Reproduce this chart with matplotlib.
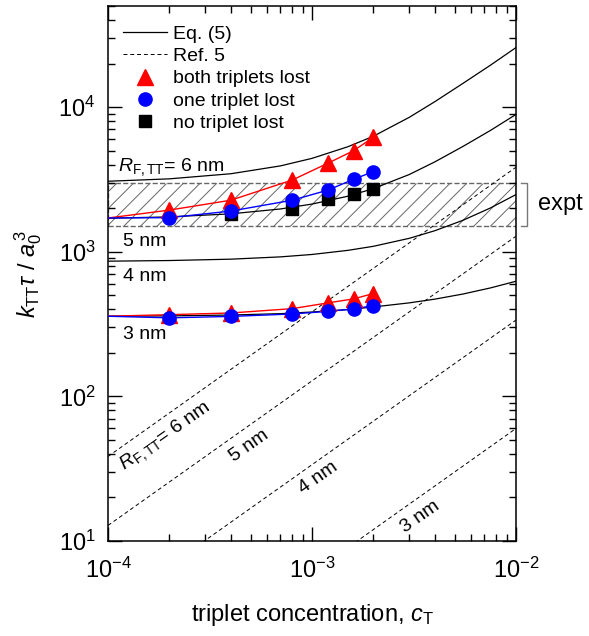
import matplotlib
matplotlib.use("Agg")
import matplotlib.pyplot as plt
import matplotlib.transforms as mtransforms

plt.rcParams['font.family'] = ['Liberation Sans', 'DejaVu Sans']
plt.rcParams['mathtext.fontset'] = 'custom'
plt.rcParams['mathtext.rm'] = 'Liberation Sans'
plt.rcParams['mathtext.it'] = 'Liberation Sans:italic'
plt.rcParams['mathtext.bf'] = 'Liberation Sans:bold'
plt.rcParams['hatch.linewidth'] = 0.7

# measured points (simulation), x = triplet concentration
c_meas = [2e-4, 4e-4, 8e-4, 1.2e-3, 1.6e-3, 2e-3]
c_none = [4e-4, 8e-4, 1.2e-3, 1.6e-3, 2e-3]
both_5nm = [1940, 2270, 3130, 4100, 5000, 6180]
one_5nm = [1720, 1910, 2270, 2670, 3170, 3580]
none_5nm = [1810, 1980, 2300, 2490, 2730]
both_3nm = [367, 377, 404, 443, 472, 514]
one_3nm = [349, 357, 371, 387, 402, 424]

# connecting lines start at the left edge
c_fit = [1e-4, 2e-4, 4e-4, 8e-4, 1.2e-3, 1.6e-3, 2e-3]
both_fit_5nm = [1710, 1940, 2270, 3130, 4100, 5000, 6180]
one_fit_5nm = [1710, 1720, 1910, 2270, 2670, 3170, 3580]
both_fit_3nm = [358, 367, 377, 404, 443, 472, 514]
one_fit_3nm = [358, 349, 357, 371, 387, 402, 424]

# Eq. (5) curves
c_eq = [1e-4, 2e-4, 4e-4, 7e-4, 1e-3, 1.5e-3, 2e-3, 3e-3, 4e-3, 5.5e-3, 7.5e-3, 1e-2]
eq_6nm = [3070, 3190, 3460, 3920, 4420, 5320, 6290, 8500, 10900, 14600, 19500, 25800]
eq_5nm = [1704, 1741, 1827, 1975, 2135, 2420, 2730, 3420, 4180, 5350, 6900, 8900]
eq_4nm = [860, 869, 888, 921, 957, 1022, 1090, 1238, 1397, 1650, 2008, 2484]
eq_3nm = [358, 360, 365, 373, 383, 398, 415, 443, 470, 510, 562, 625]

# Ref. 5 lines
c_ref = [1e-4, 1e-2]
ref_6nm = [38.4, 3840]
ref_5nm = [12.8, 1280]
ref_4nm = [3.37, 337]
ref_3nm = [0.6, 60]

expt_low, expt_high = 1500, 3000

fig = plt.figure(figsize=(5.89, 6.36), dpi=100)
ax = fig.add_axes([0.1834, 0.1494, 0.6927, 0.8412])
ax.set_xscale('log')
ax.set_yscale('log')

# experimental band
ax.axhspan(expt_low, expt_high, facecolor='none', edgecolor='#666666',
           hatch='//', linestyle='--', linewidth=1.0, zorder=1)

h_eq = None
for vals in [eq_6nm, eq_5nm, eq_4nm, eq_3nm]:
    h_eq, = ax.plot(c_eq, vals, color='black', lw=0.9, zorder=3)
h_ref = None
for vals in [ref_6nm, ref_5nm, ref_4nm, ref_3nm]:
    h_ref, = ax.plot(c_ref, vals, color='black', lw=0.7, ls=(0, (4, 3)), zorder=2)

ax.plot(c_fit, both_fit_5nm, color='red', lw=1.0, zorder=4)
ax.plot(c_fit, one_fit_5nm, color='blue', lw=1.0, zorder=4)
ax.plot(c_fit, both_fit_3nm, color='red', lw=1.0, zorder=4)
ax.plot(c_fit, one_fit_3nm, color='blue', lw=1.0, zorder=4)

h_sq, = ax.plot(c_none, none_5nm, 's', color='black', ms=8.5, ls='none', zorder=5)
h_tri, = ax.plot(c_meas, both_5nm, '^', color='red', ms=11, ls='none', zorder=6)
ax.plot(c_meas, both_3nm, '^', color='red', ms=11, ls='none', zorder=6)
h_circ, = ax.plot(c_meas, one_5nm, 'o', color='blue', ms=9.5, ls='none', zorder=7)
ax.plot(c_meas, one_3nm, 'o', color='blue', ms=9.5, ls='none', zorder=7)

ax.set_xlim(1e-4, 1e-2)
ax.set_ylim(10, 5e4)

ax.tick_params(which='both', direction='in', top=True, right=True, width=1.0)
ax.tick_params(which='major', length=10, labelsize=17)
ax.tick_params(axis='x', which='major', pad=12)
ax.tick_params(axis='y', which='major', pad=9)
ax.tick_params(which='minor', length=5)
for s in ax.spines.values():
    s.set_linewidth(1.1)

ax.set_xlabel(r'triplet concentration, $c_{\rm T}$', fontsize=17, labelpad=14)
ax.set_ylabel(r'$k_{\rm TT}\tau$ / $a_0^{\,3}$', fontsize=17, labelpad=10)

# curve labels
ax.text(1.12e-4, 3590, r'$R_{\rm F,TT}$= 6 nm', fontsize=14, va='baseline')
ax.text(1.18e-4, 1091, '5 nm', fontsize=14, va='baseline')
ax.text(1.18e-4, 625, '4 nm', fontsize=14, va='baseline')
ax.text(1.18e-4, 251, '3 nm', fontsize=14, va='baseline')

ax.text(1.92e-4, 52.5, r'$R_{\rm F,TT}$= 6 nm', fontsize=14, rotation=35,
        ha='center', va='center', rotation_mode='anchor')
ax.text(4.91e-4, 45.5, '5 nm', fontsize=14, rotation=35,
        ha='center', va='center', rotation_mode='anchor')
ax.text(1.07e-3, 27.3, '4 nm', fontsize=14, rotation=35,
        ha='center', va='center', rotation_mode='anchor')
ax.text(3.38e-3, 14.7, '3 nm', fontsize=14, rotation=35,
        ha='center', va='center', rotation_mode='anchor')

# bracket + expt label outside the axes
trans = mtransforms.blended_transform_factory(ax.transAxes, ax.transData)
ax.plot([1.012, 1.027, 1.027, 1.012], [expt_high, expt_high, expt_low, expt_low],
        color='#777777', lw=1.0, transform=trans, clip_on=False)
ax.text(1.054, 2121, 'expt', fontsize=17, va='center', ha='left', transform=trans)

ax.legend([h_eq, h_ref, h_tri, h_circ, h_sq],
          ['Eq. (5)', 'Ref. 5', 'both triplets lost', 'one triplet lost', 'no triplet lost'],
          loc='upper left', bbox_to_anchor=(0.037, 0.964), frameon=False, fontsize=14,
          handlelength=2.27, handletextpad=0.3, labelspacing=0.24, borderpad=0,
          borderaxespad=0, numpoints=1)

fig.savefig('out.png', dpi=100)
